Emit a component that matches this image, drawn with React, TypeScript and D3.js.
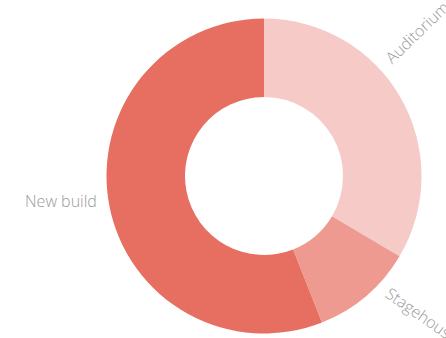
import React from "react";
import * as d3 from "d3";

const categories = ["Auditorium", "Stagehouse", "New build"];
const values = [33.5, 10.5, 56];
const colors = ["#F6CBC7", "#EE9A91", "#E76F61"];

// label placement (degrees clockwise from top, rotation, anchor)
const labelAngles = [49, 135, 259.5];
const labelRotations = [-44, 35, 0];
const labelAnchors = ["start", "start", "end"];

const W = 446;
const H = 338;
const cx = 264;
const cy = 176;
const outerR = 157.5;
const innerR = 79;
const labelR = 170;

export default function App() {
  const pie = d3
    .pie<number>()
    .sort(null)
    .value((d) => d)
    .startAngle(0)
    .endAngle(2 * Math.PI);
  const arcs = pie(values);
  const arc = d3.arc<d3.PieArcDatum<number>>().innerRadius(innerR).outerRadius(outerR);

  return (
    <svg
      width={W}
      height={H}
      style={{ position: "absolute", left: 0, top: 0, background: "#fff" }}
    >
      <g transform={`translate(${cx},${cy})`}>
        {arcs.map((a, i) => (
          <path key={categories[i]} d={arc(a) || ""} fill={colors[i]} />
        ))}
        {categories.map((c, i) => {
          const ang = (labelAngles[i] * Math.PI) / 180;
          const x = labelR * Math.sin(ang);
          const y = -labelR * Math.cos(ang);
          return (
            <text
              key={c}
              transform={`translate(${x},${y}) rotate(${labelRotations[i]})`}
              textAnchor={labelAnchors[i]}
              fontFamily="'Open Sans', sans-serif"
              fontWeight={300}
              fontSize={16}
              fill="#9a9a9a"
            >
              {c}
            </text>
          );
        })}
      </g>
    </svg>
  );
}
